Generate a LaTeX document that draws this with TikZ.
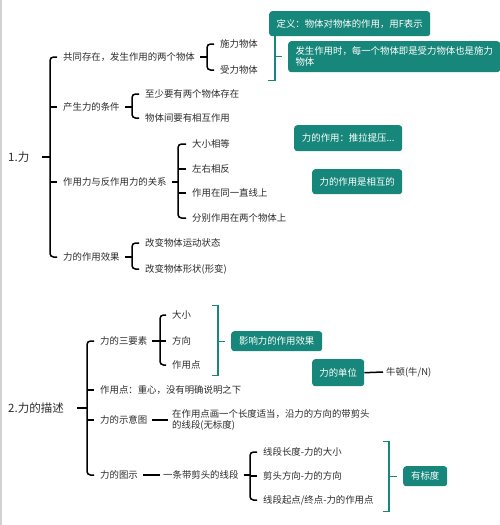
\documentclass[tikz,border=0pt]{standalone}
\usepackage{fontspec}
\setmainfont{Noto Sans CJK SC}
\usetikzlibrary{positioning,calc}
\definecolor{mindteal}{HTML}{17877B}
\definecolor{mindink}{HTML}{2B2B2B}

\begin{document}
\begin{tikzpicture}[x=1pt,y=-1pt,
    txt/.style={anchor=west, inner sep=1pt, font=\fontsize{9.4}{11}\selectfont, text=mindink},
    root/.style={txt, font=\fontsize{11.5}{13}\selectfont},
    brk/.style={draw=black, line width=1.5pt, rounded corners=3.5pt},
    tbrk/.style={draw=mindteal, line width=1.3pt},
    tbox/.style={fill=mindteal, rounded corners=3pt, text=white, inner sep=0pt, anchor=north west,
                 font=\fontsize{9.4}{11}\selectfont, align=center}]
  \fill[white] (0,0) rectangle (500,525);
  \useasboundingbox (0,0) rectangle (500,525);
  \draw[gray!35, line width=1.5pt] (0.75,0) -- (0.75,525);

  % 1. force
  \node[root] (li) at (7,157) {1.力};
  \node[txt] (gongtong) at (62,57) {共同存在，发生作用的两个物体};
  \node[txt] (chansheng) at (62,107) {产生力的条件};
  \node[txt] (guanxi) at (62,182) {作用力与反作用力的关系};
  \node[txt] (xiaoguo) at (62,257) {力的作用效果};
  \node[txt] (shili) at (219,44) {施力物体};
  \node[txt] (shouli) at (219,70) {受力物体};
  \node[txt] (zhishao) at (144,94) {至少要有两个物体存在};
  \node[txt] (xianghu) at (144,118) {物体间要有相互作用};
  \node[txt] (dengda) at (191,144) {大小相等};
  \node[txt] (xiangfan) at (191,169) {左右相反};
  \node[txt] (zhixian) at (191,193) {作用在同一直线上};
  \node[txt] (liangge) at (191,218) {分别作用在两个物体上};
  \node[txt] (yundong) at (144,243) {改变物体运动状态};
  \node[txt] (xingbian) at (144,269) {改变物体形状(形变)};

  \draw[brk] ([xshift=-5pt]gongtong.west) -- ++(-7,0) |- ([xshift=-5pt]xiaoguo.west);
  \foreach \n in {chansheng,guanxi} \draw[brk] ([xshift=-5pt]\n.west) -- ++(-7,0);
  \draw[brk] ([xshift=-12pt]li.east -| gongtong.west) -- ++(-8,0);
  \draw[brk] ([xshift=-5pt]shili.west) -- ++(-7,0) |- ([xshift=-5pt]shouli.west);
  \draw[brk] ([xshift=4pt]gongtong.east) -- ([xshift=-12pt]gongtong.east -| shili.west);
  \draw[brk] ([xshift=-5pt]zhishao.west) -- ++(-7,0) |- ([xshift=-5pt]xianghu.west);
  \draw[brk] ([xshift=4pt]chansheng.east) -- ([xshift=-12pt]chansheng.east -| zhishao.west);
  \draw[brk] ([xshift=-5pt]dengda.west) -- ++(-8,0) |- ([xshift=-5pt]liangge.west);
  \foreach \n in {xiangfan,zhixian} \draw[brk] ([xshift=-5pt]\n.west) -- ++(-8,0);
  \draw[brk] ([xshift=4pt]guanxi.east) -- ([xshift=-13pt]guanxi.east -| dengda.west);
  \draw[brk] ([xshift=-5pt]yundong.west) -- ++(-7,0) |- ([xshift=-5pt]xingbian.west);
  \draw[brk] ([xshift=4pt]xiaoguo.east) -- ([xshift=-12pt]xiaoguo.east -| yundong.west);

  \node[tbox, minimum width=212pt, minimum height=31pt, align=left] (fasheng) at (288,41)
    {发生作用时，每一个物体即是受力物体也是施力\\物体};
  \node[tbox, minimum width=161pt, minimum height=25pt] (dingyi) at (269,11) {定义：物体对物体的作用，用F表示};
  \draw[tbrk] ([xshift=-13pt]dingyi.south -| fasheng.west) -- ++(0,44) -- ++(-7,0);
  \draw[tbrk] ([xshift=-13pt]fasheng.west) -- ++(7,0);
  \node[tbox, minimum width=108pt, minimum height=26pt] (tuila) at (294,125) {力的作用：推拉提压...};
  \node[tbox, minimum width=90pt, minimum height=25pt] (xianghude) at (312,169) {力的作用是相互的};

  % 2. description of force
  \node[root] (miaoshu) at (7,408) {2.力的描述};
  \node[txt] (sanyaosu) at (99,341) {力的三要素};
  \node[txt] (zuoyongdian) at (99,390) {作用点：重心，没有明确说明之下};
  \node[txt] (shiyitu) at (99,420) {力的示意图};
  \node[txt] (tushi) at (99,475) {力的图示};
  \node[txt] (daxiao) at (171,315) {大小};
  \node[txt] (fangxiang) at (171,341) {方向};
  \node[txt] (dian) at (171,365) {作用点};
  \node[txt, align=left] (huafa) at (171,420) {在作用点画一个长度适当，沿力的方向的带剪头\\的线段(无标度)};
  \node[txt] (xianduan) at (162,475) {一条带剪头的线段};
  \node[txt] (changdu) at (262,452) {线段长度-力的大小};
  \node[txt] (jiantou) at (262,476) {剪头方向-力的方向};
  \node[txt] (qidian) at (262,500) {线段起点/终点-力的作用点};

  \draw[brk] ([xshift=-5pt]sanyaosu.west) -- ++(-7,0) |- ([xshift=-5pt]tushi.west);
  \foreach \n in {zuoyongdian,shiyitu} \draw[brk] ([xshift=-5pt]\n.west) -- ++(-7,0);
  \draw[brk] ([xshift=-12pt]miaoshu.east -| sanyaosu.west) -- ++(-10,0);
  \draw[brk] ([xshift=-5pt]daxiao.west) -- ++(-6,0) |- ([xshift=-5pt]dian.west);
  \draw[brk] ([xshift=-5pt]fangxiang.west) -- ++(-6,0);
  \draw[brk] ([xshift=4pt]sanyaosu.east) -- ([xshift=-11pt]sanyaosu.east -| daxiao.west);
  \draw[brk] ([xshift=4pt]shiyitu.east) -- ([xshift=-3pt]huafa.west);
  \draw[brk] ([xshift=4pt]tushi.east) -- ([xshift=-2pt]xianduan.west);
  \draw[brk] ([xshift=-5pt]changdu.west) -- ++(-7,0) |- ([xshift=-5pt]qidian.west);
  \draw[brk] ([xshift=-5pt]jiantou.west) -- ++(-7,0);
  \draw[brk] ([xshift=4pt]xianduan.east) -- ([xshift=-12pt]xianduan.east -| changdu.west);

  \node[tbox, minimum width=91pt, minimum height=20pt] (yingxiang) at (231,331) {影响力的作用效果};
  \draw[tbrk] ([shift={(-19,-36)}]yingxiang.west) -- ++(6,0) -- ++(0,70) -- ++(-6,0);
  \draw[tbrk] ([xshift=-13pt]yingxiang.west) -- ++(7,0);
  \node[tbox, minimum width=52pt, minimum height=27pt] (danwei) at (312,359) {力的单位};
  \node[txt] (niudun) at (385,372) {牛顿(牛/N)};
  \draw[brk] (danwei.east) -- ([xshift=-2pt]niudun.west);
  \node[tbox, minimum width=44pt, minimum height=20pt] (youbiaodu) at (403,466) {有标度};
  \draw[tbrk] ([shift={(-20,-35)}]youbiaodu.west) -- ++(6,0) -- ++(0,70) -- ++(-6,0);
  \draw[tbrk] ([xshift=-14pt]youbiaodu.west) -- ++(8,0);
\end{tikzpicture}
\end{document}
